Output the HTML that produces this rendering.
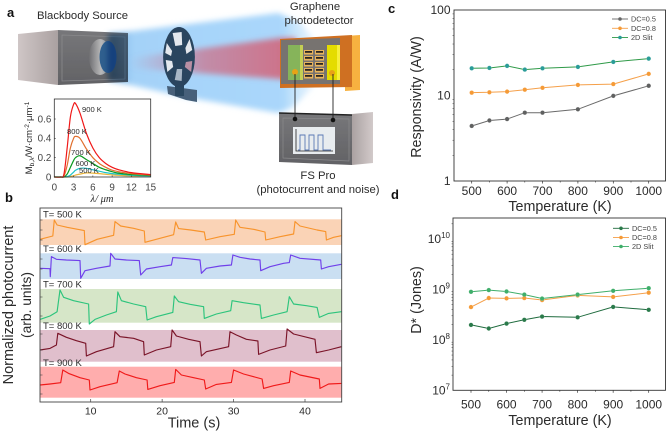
<!DOCTYPE html>
<html lang="en">
<head>
<meta charset="utf-8">
<title>Graphene photodetector figure</title>
<style>
html,body{margin:0;padding:0;background:#fff;}
svg{display:block;font-family:"Liberation Sans",sans-serif;}
text{fill:#2b2b2b;}
</style>
</head>
<body>
<svg id="fig" width="667" height="433" viewBox="0 0 667 433" xmlns="http://www.w3.org/2000/svg">
<defs>
  <filter id="b3" x="-20%" y="-20%" width="140%" height="140%"><feGaussianBlur stdDeviation="3"/></filter>
  <filter id="b05"><feGaussianBlur stdDeviation="0.35"/></filter>
  <linearGradient id="blueBeam" x1="0" x2="1" y1="0" y2="0">
    <stop offset="0" stop-color="#5f9fd8"/><stop offset="0.12" stop-color="#a4d2f8"/>
    <stop offset="0.85" stop-color="#aad7fb"/><stop offset="1" stop-color="#cfe8fc" stop-opacity="0.5"/>
  </linearGradient>
  <linearGradient id="redBeam" x1="0" x2="1" y1="0" y2="0">
    <stop offset="0" stop-color="#c87a98" stop-opacity="0"/><stop offset="0.45" stop-color="#c87a94" stop-opacity="0.8"/>
    <stop offset="1" stop-color="#cf6e84"/>
  </linearGradient>
  <linearGradient id="sideGrad" x1="0" x2="1" y1="0" y2="0">
    <stop offset="0" stop-color="#cfc6c6"/><stop offset="1" stop-color="#aaa1a1"/>
  </linearGradient>
  <linearGradient id="sideGrad2" x1="0" x2="1" y1="0" y2="0">
    <stop offset="0" stop-color="#aaa1a1"/><stop offset="1" stop-color="#d2caca"/>
  </linearGradient>
  <linearGradient id="frontGrad" x1="0" x2="0" y1="0" y2="1">
    <stop offset="0" stop-color="#77777a"/><stop offset="1" stop-color="#626265"/>
  </linearGradient>
  <linearGradient id="lensGrad" x1="0" x2="1" y1="0" y2="0">
    <stop offset="0" stop-color="#6f6f72"/><stop offset="0.55" stop-color="#b9b9ba"/><stop offset="1" stop-color="#8f8f92"/>
  </linearGradient>
</defs>

<g id="panel-a">
  <text x="7" y="17" font-size="13" font-weight="bold" style="fill:#111">a</text>
  <g>
    <polygon points="18,34 58,30 58,85 18,80" fill="url(#sideGrad)" filter="url(#b05)"/>
    <polygon points="58,30 128,33 128,82 58,85" fill="url(#frontGrad)" filter="url(#b05)"/>
    <polygon points="62,35 125,37 125,79 62,81" fill="none" stroke="#8a8a8c" stroke-width="0.8"/>
    <ellipse cx="100" cy="57" rx="11" ry="18" fill="url(#lensGrad)"/>
    <ellipse cx="108" cy="57" rx="8.5" ry="16" fill="#2f5f8e"/>
  </g>
  <g style="mix-blend-mode:multiply">
    <polygon points="108,34 278,13 300,22 313,38 312,88 292,108 278,113 185,97 108,80" fill="url(#blueBeam)" filter="url(#b3)"/>
  </g>
  <polygon points="130,58 280,38 296,38 296,80 280,79 130,68" fill="url(#redBeam)" filter="url(#b3)"/>
  <g filter="url(#b05)">
    <polygon points="167,86 197,90 197,102 186,100 168,94" fill="#46607a"/>
    <rect x="175" y="80" width="9" height="16" fill="#2c4660"/>
    <g transform="translate(179,57) scale(0.53,1)">
      <circle r="30" fill="#29445f"/>
      <g fill="#e4e8ee">
        <path d="M-7,-11 L-12,-24 L5,-25 L6,-12 Z"/>
        <path d="M12,-9 L20,-18 L25,-7 L14,-3 Z"/>
        <path d="M13,5 L25,4 L23,15 L11,10 Z" fill="#b98fa4"/>
        <path d="M-4,12 L6,12 L5,24 L-8,23 Z" fill="#a9b7c6"/>
        <path d="M-13,4 L-25,3 L-22,15 L-11,10 Z"/>
        <path d="M-13,-6 L-23,-14 L-26,-4 L-15,-1 Z"/>
      </g>
    </g>
  </g>
  <g filter="url(#b05)">
    <polygon points="345,36 360,35 360,90 345,91" fill="#f7b13f"/>
    <polygon points="280,39 352,35 352,87 280,88" fill="#cf6f24"/>
    <polygon points="281,40 340,38 340,84 281,84" fill="#77736f"/>
    <rect x="288" y="45" width="15" height="35" fill="#86b45a"/>
    <rect x="300" y="45" width="3" height="35" fill="#c4cf52"/>
    <rect x="327" y="45" width="13" height="35" fill="#e4dc00"/>
    <rect x="337" y="45" width="3" height="35" fill="#f7ef3a"/>
    <g id="fingers"></g>
    <circle cx="295" cy="72" r="3" fill="#e8a313"/>
    <circle cx="332" cy="73" r="3" fill="#e8a313"/>
  </g>
  <g filter="url(#b05)">
    <polygon points="352,114 373,112 373,163 352,165" fill="url(#sideGrad2)"/>
    <polygon points="279,113 352,115 352,165 279,162" fill="url(#frontGrad)"/>
    <line x1="279" y1="113" x2="352" y2="115" stroke="#222" stroke-width="1.4"/>
    <polygon points="283,118 349,119 349,161 283,158" fill="none" stroke="#8a8a8c" stroke-width="0.7"/>
    <rect x="293" y="127" width="42" height="27" fill="#e8ecef"/>
    <polyline points="296,129 296,151 333,151" fill="none" stroke="#222" stroke-width="0.8"/>
    <polyline points="298,150 300,150 300,135 305,135 305,150 309,150 309,135 314,135 314,150 318,150 318,135 323,135 323,150 331,150" fill="none" stroke="#5a78b4" stroke-width="0.9"/>
  </g>
  <g>
    <line x1="295" y1="74" x2="295" y2="118" stroke="#222" stroke-width="0.9"/>
    <line x1="333" y1="74" x2="333" y2="120" stroke="#222" stroke-width="0.9"/>
    <circle cx="295" cy="119" r="2.3" fill="#111"/>
    <circle cx="333" cy="120" r="2.3" fill="#111"/>
  </g>
  <text x="37" y="19" font-size="11.3">Blackbody Source</text>
  <text x="315" y="10" font-size="11.3" text-anchor="middle">Graphene</text>
  <text x="319" y="24" font-size="11.3" text-anchor="middle">photodetector</text>
  <text x="318" y="179" font-size="11.3" text-anchor="middle">FS Pro</text>
  <text x="318" y="193" font-size="11.3" text-anchor="middle">(photocurrent and noise)</text>
</g>

<g id="inset"></g>
<g id="panel-b"></g>
<g id="panel-c"></g>
<g id="panel-d"></g>
</svg>

<script>
/* Inset: blackbody spectra */
const insetWavelengths = [1,1.5,2,2.5,3,3.3,4,5,6,7,8,9,10,12,15];
const inset900 = [0,.03,.3,.62,.75,.76,.66,.45,.3,.2,.14,.1,.075,.045,.025];
const inset800 = [0,.01,.12,.3,.4,.42,.4,.29,.2,.14,.1,.07,.055,.035,.02];
const inset700 = [0,0,.03,.1,.17,.2,.22,.18,.14,.1,.075,.055,.04,.025,.015];
const inset600 = [0,0,.005,.02,.05,.07,.09,.09,.075,.06,.045,.035,.03,.018,.01];
const inset500 = [0,0,0,.005,.012,.02,.03,.042,.04,.035,.028,.022,.018,.012,.008];
const insetXTicks = [0,3,6,9,12,15];
const insetYTicks = [0,0.2,0.4,0.6];

/* Panel b: time (s), signal height (arb. units) */
const trace500 = [[2.9,17],[4.7,27],[4.9,75],[5.3,60],[6.7,53],[9.1,43],[9.2,1],[10.9,17],[13.2,29],[13.4,70],[14.2,57],[16,50],[17.5,42],[17.6,8],[19.7,20],[21.6,31],[21.9,69],[22.3,49],[24,45],[25.9,39],[26.1,15],[28.1,25],[30.1,32],[30.3,75],[30.9,53],[32.8,47],[34.4,39],[34.5,15],[36.5,25],[38.4,33],[38.6,70],[39.3,57],[41.7,45],[42.9,40],[43,15],[44,23],[45.1,28]];
const trace600 = [[2.9,32],[4.3,31],[4.35,7],[4.5,67],[5.2,59],[6.6,57],[8.5,55],[8.6,2],[9.2,25],[10.8,32],[12.7,39],[12.8,77],[13.4,60],[15,57],[16.8,55],[17,12],[17.8,30],[19.7,37],[21.3,42],[21.5,64],[23.4,61],[25.3,57],[25.5,17],[26.2,32],[28.1,39],[29.7,42],[29.9,72],[30.9,65],[32.3,60],[33.7,57],[33.8,25],[35.1,37],[37,47],[37.8,49],[38,72],[39.3,62],[42.2,57],[42.3,30],[43.3,37],[45.1,44]];
const trace700 = [[2.9,10],[4.3,20],[5.3,33],[5.7,98],[6.2,76],[7.6,66],[9.7,56],[9.8,-4],[10.6,10],[12.2,23],[13.6,33],[13.8,92],[14.3,66],[16,56],[17.7,48],[17.9,8],[19.2,18],[21.5,31],[21.7,80],[22.3,63],[23.9,55],[25.8,48],[25.9,13],[27.6,26],[29.6,36],[29.8,66],[31.4,60],[33.7,53],[33.9,13],[35.6,23],[37.5,33],[37.8,78],[38.4,56],[40.2,51],[41.7,46],[42,16],[43.3,28],[45.1,33]];
const trace800 = [[2.9,35],[4.3,40],[5.2,50],[5.4,85],[6.6,73],[8,63],[9.3,55],[9.4,17],[10.8,30],[13.2,45],[13.4,90],[14.1,75],[16,70],[17.4,60],[17.5,20],[19.2,35],[21.2,45],[21.4,95],[22,77],[23.7,67],[25.3,60],[25.5,17],[26.2,30],[29.3,45],[29.5,90],[30.4,80],[31.8,67],[33.4,62],[33.5,22],[35.1,35],[37.3,47],[37.5,98],[38.4,83],[41.4,67],[41.6,27],[43.3,35],[45.1,45]];
const trace900 = [[2.9,38],[4.3,41],[5.8,45],[6.1,83],[6.9,73],[8.5,60],[9.8,53],[9.9,23],[11.3,33],[13.7,45],[14,80],[14.8,71],[16.4,60],[17.9,53],[18,25],[19.7,36],[21.7,46],[21.9,85],[22.7,68],[24.4,60],[25.9,53],[26.1,26],[27.6,40],[29.7,46],[30,83],[31.4,71],[32.8,63],[34,56],[34.2,28],[35.6,36],[37.8,46],[38,80],[39.3,68],[42,56],[42.1,28],[43.3,41],[45.1,43]];
const timeTicks = [10,20,30,40];

/* Panels c and d */
const temperatures = [500,550,600,650,700,800,900,1000];
const temperatureTicks = [500,600,700,800,900,1000];
const respDC05 = [4.4,5.1,5.3,6.3,6.3,6.9,9.9,13];
const respDC08 = [10.8,10.9,11.1,11.7,12.3,13.3,13.6,17.9];
const resp2DSlit = [20.8,21,22.2,20.1,20.8,21.6,24.7,27];
const respTicks = [1,10,100];
const detDC05 = [1.98e8,1.68e8,2.1e8,2.5e8,2.9e8,2.8e8,4.5e8,3.95e8];
const detDC08 = [4.47e8,6.76e8,6.65e8,6.76e8,6.17e8,7.6e8,7.1e8,8.6e8];
const det2DSlit = [8.98e8,9.7e8,9.1e8,7.9e8,6.6e8,7.9e8,9.4e8,1.06e9];
const detExponents = [7,8,9,10];

const NS = 'http://www.w3.org/2000/svg';
function mk(parent, tag, attrs, txt){
  const el = document.createElementNS(NS, tag);
  for (const k in attrs) el.setAttribute(k, attrs[k]);
  if (txt !== undefined) el.textContent = txt;
  parent.appendChild(el);
  return el;
}
function linear(d0,d1,r0,r1){ return v => r0 + (v-d0)*(r1-r0)/(d1-d0); }
function logScale(d0,d1,r0,r1){ return v => r0 + (Math.log10(v)-Math.log10(d0))*(r1-r0)/(Math.log10(d1)-Math.log10(d0)); }
function smooth(p){
  let d = 'M'+p[0][0]+','+p[0][1];
  for (let i=0;i<p.length-1;i++){
    const a=p[Math.max(i-1,0)],b=p[i],c=p[i+1],e=p[Math.min(i+2,p.length-1)];
    d += ' C'+(b[0]+(c[0]-a[0])/6)+','+(b[1]+(c[1]-a[1])/6)+' '+(c[0]-(e[0]-b[0])/6)+','+(c[1]-(e[1]-b[1])/6)+' '+c[0]+','+c[1];
  }
  return d;
}
function name(el,n){
  
  
  return el;
}

/* detector fingers */
(function(){
  const g = document.getElementById('fingers');
  for (let r=0;r<5;r++){
    for (let c=0;c<2;c++){
      const x = 304+c*11, y = 50+r*6;
      mk(g,'rect',{x:x,y:y,width:9,height:4.5,fill:'#e8b45c'});
      mk(g,'rect',{x:x+1,y:y+1,width:7,height:1.8,fill:'#2b2622'});
    }
  }
})();

/* inset */
(function(){
  const g = document.getElementById('inset');
  const L=54.3,R=150.7,T=99,B=177;
  const x = linear(0,15,L,R), y = linear(0,0.807,B,T);
  const series = [[inset500,'#e9b43a','curve-500k'],[inset600,'#1cc4c8','curve-600k'],[inset700,'#0a9a1e','curve-700k'],[inset800,'#e0702f','curve-800k'],[inset900,'#f01818','curve-900k']];
  series.forEach(s=>{
    const pts = insetWavelengths.map((w,i)=>[x(w),y(s[0][i])]);
    pts.unshift([x(0),y(0)]);
    const p = mk(g,'path',{d:smooth(pts),fill:'none',stroke:s[1],'stroke-width':1.2});
    name(p,s[2]);
  });
  const fr = mk(g,'rect',{x:L,y:T,width:R-L,height:B-T,fill:'none',stroke:'#333','stroke-width':0.8});
  name(fr,'inset-frame');
  insetXTicks.forEach(t=>{
    mk(g,'line',{x1:x(t),x2:x(t),y1:B,y2:B-1.5,stroke:'#333','stroke-width':0.6});
    const l = mk(g,'text',{x:x(t),y:190.5,'font-size':9.8,'text-anchor':'middle','style':'fill:#444'},t);
    name(l,'inset-x-tick-label');
  });
  insetYTicks.forEach(t=>{
    mk(g,'line',{x1:L,x2:L+1.5,y1:y(t),y2:y(t),stroke:'#333','stroke-width':0.6});
    const l = mk(g,'text',{x:L-3,y:y(t)+3.4,'font-size':9.8,'text-anchor':'end','style':'fill:#444'},t);
    name(l,'inset-y-tick-label');
  });
  const labels = [['900 K',82,112],['800 K',67,134],['700 K',71,155],['600 K',75.5,166],['500 K',79,173]];
  labels.forEach(a=>{
    const l = mk(g,'text',{x:a[1],y:a[2],'font-size':7.6},a[0]);
    name(l,'inset-curve-label');
  });
  const xl = mk(g,'text',{x:102,y:202,'font-size':10.5,'text-anchor':'middle','font-style':'italic','font-family':'"Liberation Serif",serif'},'λ/ μm');
  name(xl,'inset-x-axis-title');
  const yl = mk(g,'text',{transform:'translate(32,138) rotate(-90)','font-size':9.6,'text-anchor':'middle'});
  name(yl,'inset-y-axis-title');
  mk(yl,'tspan',{},'M');
  mk(yl,'tspan',{'font-size':6.5,dy:2},'b,λ');
  mk(yl,'tspan',{dy:-2},'/W·cm');
  mk(yl,'tspan',{'font-size':6.5,dy:-3},'-2');
  mk(yl,'tspan',{dy:3},'·μm');
  mk(yl,'tspan',{'font-size':6.5,dy:-3},'-1');
})();

/* panel b */
(function(){
  const g = document.getElementById('panel-b');
  const L=40,R=341.7,T=208,B=402;
  const x = linear(10,40,90.7,305);
  const lab = mk(g,'text',{x:5,y:202,'font-size':13,'font-weight':'bold',style:'fill:#111'},'b');
  name(lab,'panel-b-label');
  function band(data,fill,color,top,bot,vmax,label,labelY,nm){
    const r = mk(g,'rect',{x:L,y:top,width:R-L,height:bot-top,fill:fill});
    name(r,'band-'+nm);
    const y = linear(0,vmax,bot,top);
    const pts = data.map(d=>x(d[0]).toFixed(1)+','+y(d[1]).toFixed(1)).join(' ');
    const line = mk(g,'polyline',{points:pts,fill:'none',stroke:color,'stroke-width':1.15,'stroke-linejoin':'round'});
    name(line,'trace-'+nm);
    const t = mk(g,'text',{x:43,y:labelY,'font-size':9.5},label);
    name(t,'trace-label-'+nm);
  }
  band(trace500,'#fad3b6','#f8942c',219.3,245,77,'T= 500 K',217.5,'500k');
  band(trace600,'#cadff2','#7040ea',253.3,279,77,'T= 600 K',252,'600k');
  band(trace700,'#d6e6c8','#2cc47c',289,322.7,101,'T= 700 K',287.5,'700k');
  band(trace800,'#e0bfcc','#7a1428',330,361.7,95,'T= 800 K',329,'800k');
  band(trace900,'#ffadad','#f01a1a',366.7,397.7,93,'T= 900 K',366,'900k');
  const fr = mk(g,'rect',{x:L,y:T,width:R-L,height:B-T,fill:'none',stroke:'#444','stroke-width':0.9});
  name(fr,'panel-b-frame');
  timeTicks.forEach(t=>{
    mk(g,'line',{x1:x(t),x2:x(t),y1:B,y2:B-3,stroke:'#444','stroke-width':0.7});
    const l = mk(g,'text',{x:x(t),y:414.5,'font-size':10.5,'text-anchor':'middle'},t);
    name(l,'x-tick-label');
  });
  [220,230,240,259,269,297,316,334,350,375,394].forEach(v=>{
    mk(g,'line',{x1:L,x2:L+2.5,y1:v,y2:v,stroke:'#444','stroke-width':0.6});
  });
  const xl = mk(g,'text',{x:194,y:427.5,'font-size':14.5,'text-anchor':'middle'},'Time (s)');
  name(xl,'x-axis-title');
  const y1 = mk(g,'text',{transform:'translate(13,305) rotate(-90)','font-size':14.5,'text-anchor':'middle'},'Normalized photocurrent');
  name(y1,'y-axis-title');
  const y2 = mk(g,'text',{transform:'translate(31,305) rotate(-90)','font-size':13.8,'text-anchor':'middle'},'(arb. units)');
  name(y2,'y-axis-subtitle');
})();

function frame(g,L,R,T,B,x,y,minD,maxD){
  const fr = mk(g,'rect',{x:L,y:T,width:R-L,height:B-T,fill:'none',stroke:'#333','stroke-width':0.9});
  name(fr,'plot-frame');
  [550,650,750,850,950].forEach(t=>mk(g,'line',{x1:x(t),x2:x(t),y1:B,y2:B+1.5,stroke:'#333','stroke-width':0.6}));
  temperatureTicks.forEach(t=>{
    mk(g,'line',{x1:x(t),x2:x(t),y1:B,y2:B+2.5,stroke:'#333','stroke-width':0.7});
  });
  for (let e=minD;e<=maxD;e++){
    for (let m=2;m<10;m++){
      const v=Math.pow(10,e)*m, p=y(v);
      if (p>=T && p<=B) mk(g,'line',{x1:L,x2:L-1.5,y1:p,y2:p,stroke:'#333','stroke-width':0.5});
    }
  }
}
function series(g,x,y,vals,lineCol,dotCol,nm){
  const pts = temperatures.map((t,i)=>x(t).toFixed(1)+','+y(vals[i]).toFixed(1)).join(' ');
  const l = mk(g,'polyline',{points:pts,fill:'none',stroke:lineCol,'stroke-width':1});
  name(l,nm+'-line');
  temperatures.forEach((t,i)=>{
    const c = mk(g,'circle',{cx:x(t),cy:y(vals[i]),r:2.2,fill:dotCol,stroke:'#ffffff','stroke-opacity':0.35,'stroke-width':0.4});
    name(c,nm+'-point');
  });
}
function legend(g,x0,tx,rows){
  rows.forEach(r=>{
    const ln = mk(g,'line',{x1:x0,x2:x0+16,y1:r[0],y2:r[0],stroke:r[1],'stroke-width':0.9});
    name(ln,'legend-line');
    const c = mk(g,'circle',{cx:x0+8,cy:r[0],r:1.8,fill:r[2]});
    name(c,'legend-marker');
    const t = mk(g,'text',{x:tx,y:r[0]+2.6,'font-size':7.3,style:'fill:#444'},r[3]);
    name(t,'legend-entry');
  });
}

/* panel c */
(function(){
  const g = document.getElementById('panel-c');
  const L=454,R=665.5,T=10,B=181;
  const x = linear(500,1000,471.7,648.7), y = logScale(1,100,B,T);
  const lab = mk(g,'text',{x:388,y:13,'font-size':13,'font-weight':'bold',style:'fill:#111'},'c');
  name(lab,'panel-c-label');
  frame(g,L,R,T,B,x,y,0,1);
  series(g,x,y,respDC05,'#6a6a6a','#5f6060','dc05');
  series(g,x,y,respDC08,'#f5a04a','#f59a36','dc08');
  series(g,x,y,resp2DSlit,'#2f9a48','#2a9c98','slit2d');
  legend(g,612,631,[[19,'#666','#666','DC=0.5'],[28.3,'#f5a04a','#f59a36','DC=0.8'],[37.5,'#2f9a48','#2a9c98','2D Slit']]);
  temperatureTicks.forEach(t=>{
    const l = mk(g,'text',{x:x(t),y:195,'font-size':12,'text-anchor':'middle'},t);
    name(l,'x-tick-label');
  });
  respTicks.forEach(t=>{
    const l = mk(g,'text',{x:450.5,y:y(t)+4,'font-size':12,'text-anchor':'end'},t);
    name(l,'y-tick-label');
  });
  const xl = mk(g,'text',{x:560,y:211,'font-size':14.3,'text-anchor':'middle'},'Temperature (K)');
  name(xl,'x-axis-title');
  const yl = mk(g,'text',{transform:'translate(421,97) rotate(-90)','font-size':14.3,'text-anchor':'middle'},'Responsivity (A/W)');
  name(yl,'y-axis-title');
})();

/* panel d */
(function(){
  const g = document.getElementById('panel-d');
  const L=453,R=665.5,T=218,B=390.3;
  const x = linear(500,1000,471,648.7), y = logScale(1e7,1e10,B,239);
  const lab = mk(g,'text',{x:391,y:199,'font-size':13,'font-weight':'bold',style:'fill:#111'},'d');
  name(lab,'panel-d-label');
  frame(g,L,R,T,B,x,y,7,10);
  series(g,x,y,detDC05,'#1f6b3e','#2a7a4a','dc05');
  series(g,x,y,detDC08,'#f5a04a','#f59a36','dc08');
  series(g,x,y,det2DSlit,'#3fae6a','#3fae6a','slit2d');
  legend(g,613,632,[[228.3,'#1f6b3e','#2a7a4a','DC=0.5'],[237.5,'#f5a04a','#f59a36','DC=0.8'],[246.5,'#3fae6a','#3fae6a','2D Slit']]);
  temperatureTicks.forEach(t=>{
    const l = mk(g,'text',{x:x(t),y:408.5,'font-size':12,'text-anchor':'middle'},t);
    name(l,'x-tick-label');
  });
  detExponents.forEach(e=>{
    const l = mk(g,'text',{x:450,y:y(Math.pow(10,e))+4,'font-size':12,'text-anchor':'end'});
    name(l,'y-tick-label');
    mk(l,'tspan',{},'10');
    mk(l,'tspan',{'font-size':8,dy:-5},e);
  });
  const xl = mk(g,'text',{x:560,y:425,'font-size':14.3,'text-anchor':'middle'},'Temperature (K)');
  name(xl,'x-axis-title');
  const yl = mk(g,'text',{transform:'translate(421,300) rotate(-90)','font-size':14.3,'text-anchor':'middle'},'D* (Jones)');
  name(yl,'y-axis-title');
})();
</script>
</body>
</html>
